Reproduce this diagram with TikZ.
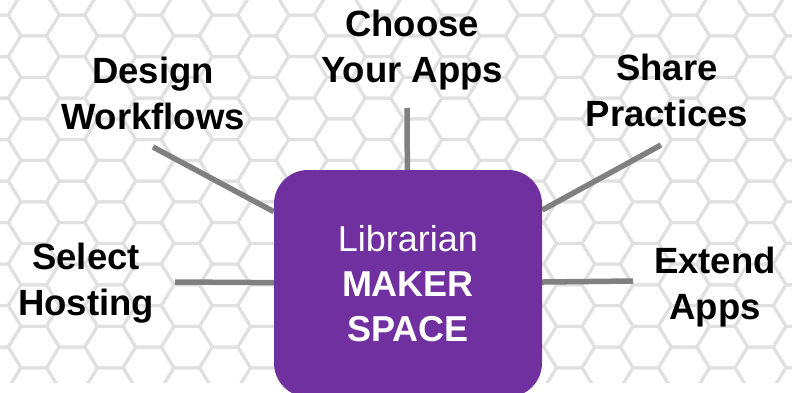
\documentclass[tikz,border=0pt]{standalone}
\usepackage{fontspec}
\setmainfont{Liberation Sans}
\usepackage{xcolor}
\usetikzlibrary{calc, backgrounds}
\definecolor{makerpurple}{RGB}{112,48,160}
\definecolor{linkgray}{RGB}{128,128,128}
\definecolor{hexgray}{RGB}{224,224,224}

\begin{document}
\begin{tikzpicture}[x=1pt, y=-1pt,
        hexline/.style={draw=hexgray, line width=3pt, line join=round},
        link/.style={draw=linkgray, line width=5.5pt},
        topic/.style={inner sep=0pt, anchor=north, align=center,
            font=\fontsize{36.5}{46}\selectfont\bfseries},
        hub/.style={fill=makerpurple, rounded corners=34pt, minimum width=268pt,
            minimum height=227pt, text=white, align=center,
            font=\fontsize{36}{45}\selectfont}]
        \useasboundingbox (0,0) rectangle (792,392);

        % Hexagon backdrop
        \begin{scope}[on background layer]
            \clip (0,0) rectangle (792,382);
            \foreach \i in {-2,...,20}
                \foreach \j in {-1,...,9}
                    \draw[hexline, shift={({72+38.25*\i},{35.75+20.75*mod(\i+2,2)+41.5*\j})}]
                        (25.5,0) -- (12.75,20.75) -- (-12.75,20.75) -- (-25.5,0)
                        -- (-12.75,-20.75) -- (12.75,-20.75) -- cycle;
        \end{scope}

        % The maker space box (runs off the bottom edge)
        \node[hub] (space) at (408,283.5) {Librarian\\\textbf{MAKER}\\\textbf{SPACE}};

        % Label the topics
        \node[topic] (choose) at (412,10) {Choose\\Your Apps};
        \node[topic] (design) at (153,57) {Design\\Workflows};
        \node[topic] (share) at (667,54) {Share\\Practices};
        \node[topic] (select) at (86,243) {Select\\Hosting};
        \node[topic] (extend) at (715,247) {Extend\\Apps};

        % Outer ends of the spokes
        \coordinate (chooseend) at (407,108);
        \coordinate (designend) at (153,147);
        \coordinate (shareend) at (661,145);
        \coordinate (selectend) at (175,282);
        \coordinate (extendend) at (633,281);

        % Draw the spokes behind the box
        \begin{scope}[on background layer]
            \draw[link] (chooseend) -- (space);
            \draw[link] (designend) -- (space);
            \draw[link] (shareend) -- (space);
            \draw[link] (selectend) -- (space);
            \draw[link] (extendend) -- (space);
        \end{scope}
    \end{tikzpicture}
\end{document}
